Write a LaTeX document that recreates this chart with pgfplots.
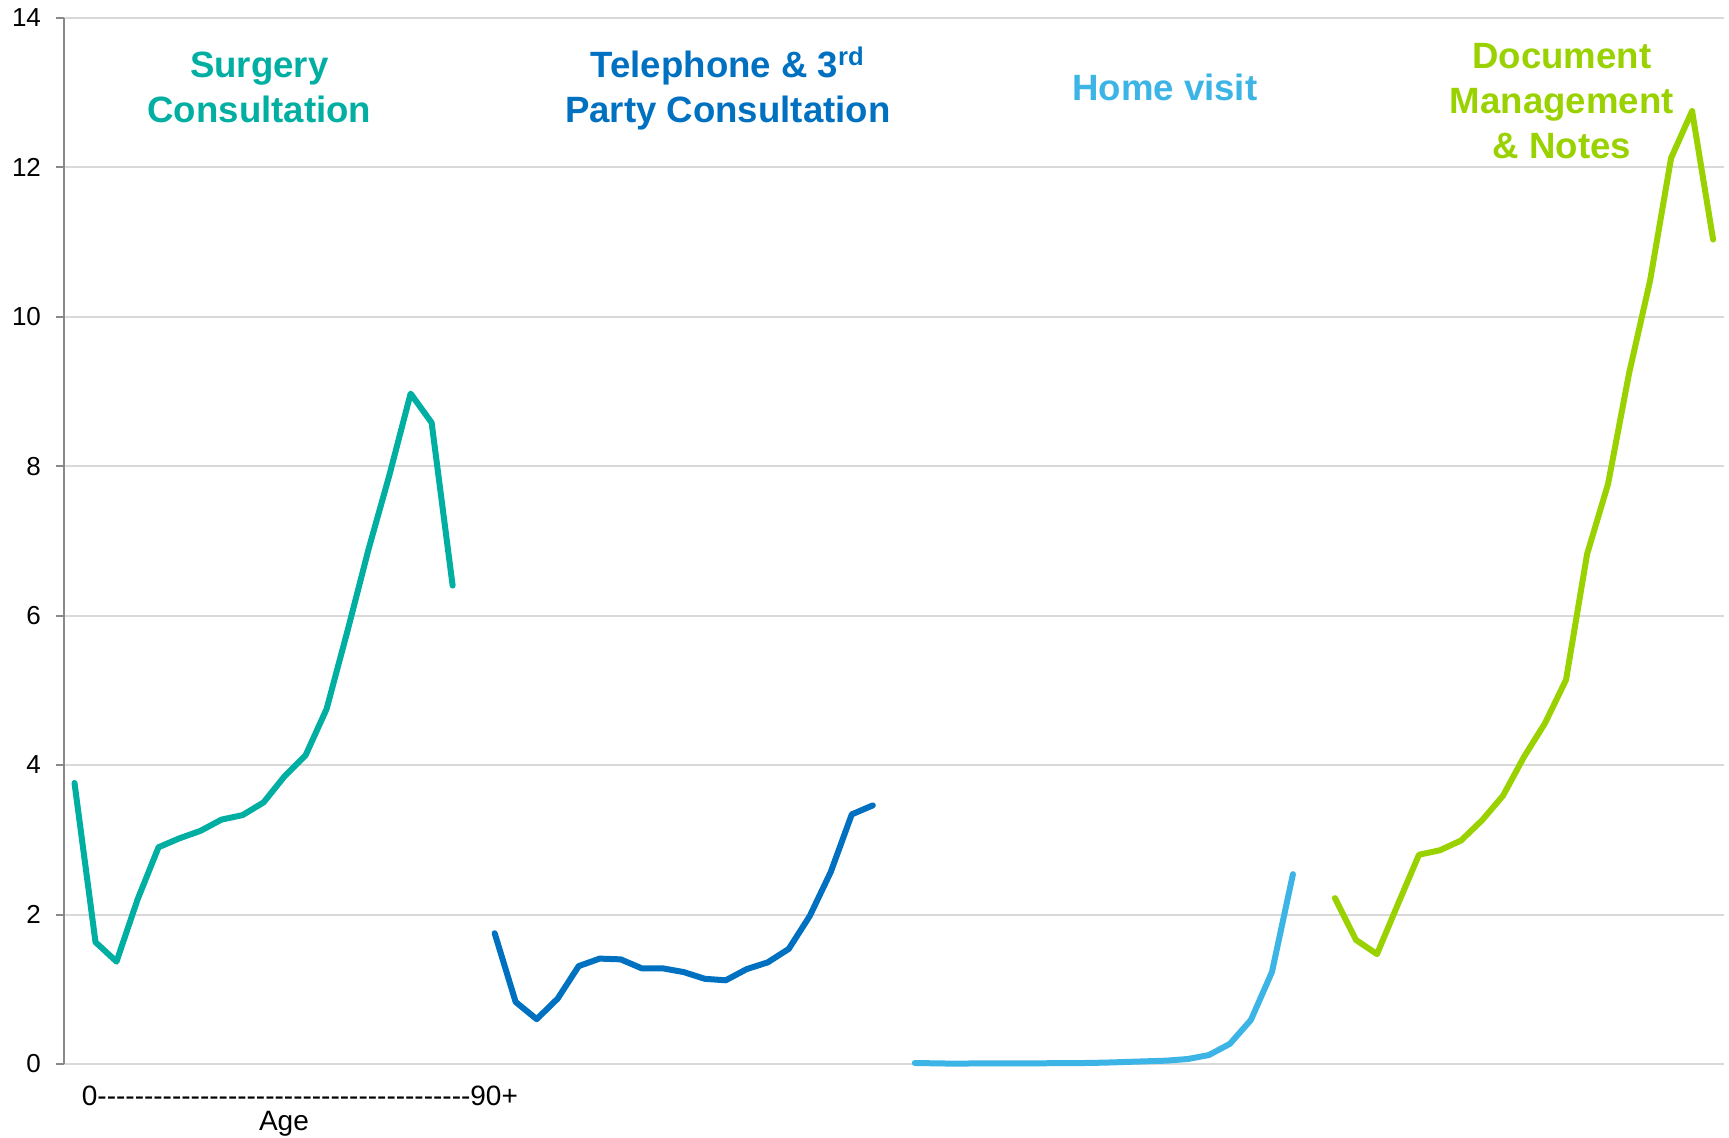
\documentclass[border=0pt]{standalone}
\usepackage{pgfplots}
\pgfplotsset{compat=1.18}
\usepackage{fontspec}
\setmainfont{Liberation Sans}
\definecolor{surg}{RGB}{0,174,162}
\definecolor{tel}{RGB}{0,112,192}
\definecolor{home}{RGB}{60,180,230}
\definecolor{docu}{RGB}{153,210,0}
\definecolor{gridc}{RGB}{217,217,217}
\definecolor{axc}{RGB}{137,137,137}
\newcommand\hy{-{}}
\newcommand\hyx{\hy\hy\hy\hy\hy\hy\hy\hy\hy\hy}
\begin{document}
\begin{tikzpicture}
\begin{axis}[
  at={(0,0)}, anchor=south west,
  scale only axis, width=829.8pt, height=523.2pt,
  xmin=-0.5, xmax=78.5, ymin=0, ymax=14,
  xtick=\empty, ytick={0,2,...,14},
  axis x line*=bottom, axis y line*=left,
  x axis line style={-, draw=gridc, line width=1pt},
  y axis line style={-, draw=axc, line width=1pt},
  ymajorgrids, grid style={draw=gridc, line width=1pt},
  tick align=outside, major tick length=4pt,
  tick style={draw=axc, line width=1pt},
  /pgf/number format/assume math mode=true,
  yticklabel style={font=\fontsize{13}{15}\selectfont, xshift=-4pt},
  clip=false,
  every axis plot/.append style={line width=3pt, line join=round, line cap=round, mark=none},
]
\addplot[surg] coordinates {(0,3.76)(1,1.63)(2,1.37)(3,2.2)(4,2.9)(5,3.02)(6,3.12)(7,3.27)(8,3.33)(9,3.5)(10,3.85)(11,4.13)(12,4.75)(13,5.8)(14,6.89)(15,7.89)(16,8.97)(17,8.58)(18,6.4)};
\addplot[tel] coordinates {(20,1.75)(21,0.83)(22,0.60)(23,0.875)(24,1.31)(25,1.41)(26,1.40)(27,1.28)(28,1.28)(29,1.23)(30,1.14)(31,1.12)(32,1.27)(33,1.36)(34,1.54)(35,1.98)(36,2.57)(37,3.34)(38,3.46)};
\addplot[home] coordinates {(40,0.013)(41,0.009)(42,0.004)(43,0.009)(44,0.009)(45,0.009)(46,0.009)(47,0.013)(48,0.013)(49,0.018)(50,0.027)(51,0.036)(52,0.045)(53,0.067)(54,0.12)(55,0.27)(56,0.59)(57,1.23)(58,2.54)};
\addplot[docu] coordinates {(60,2.22)(61,1.66)(62,1.47)(63,2.14)(64,2.80)(65,2.86)(66,2.99)(67,3.26)(68,3.59)(69,4.11)(70,4.56)(71,5.14)(72,6.82)(73,7.76)(74,9.24)(75,10.48)(76,12.12)(77,12.75)(78,11.03)};
\begin{scope}[every node/.style={align=center, font=\fontsize{18.3}{22.5}\selectfont\bfseries}]
\node[text=surg] at (axis cs:8.8,13.07) {Surgery\\Consultation};
\node[text=tel] at (axis cs:31.1,13.05) {Telephone \& 3\textsuperscript{rd}\\Party Consultation};
\node[text=home] at (axis cs:51.9,13.07) {Home visit};
\node[text=docu] at (axis cs:70.8,12.88) {Document\\Management\\\& Notes};
\end{scope}
\node[anchor=base, font=\fontsize{14}{16}\selectfont, yshift=-20.5pt, inner sep=0pt] at (axis cs:10.73,0) {0\hyx\hyx\hyx\hyx 90+};
\node[anchor=base, font=\fontsize{14}{16}\selectfont, yshift=-33pt, inner sep=0pt] at (axis cs:9.97,0) {Age};
\end{axis}
\path (-32pt,-36.5pt) rectangle (832.5pt,532pt);
\end{tikzpicture}
\end{document}
